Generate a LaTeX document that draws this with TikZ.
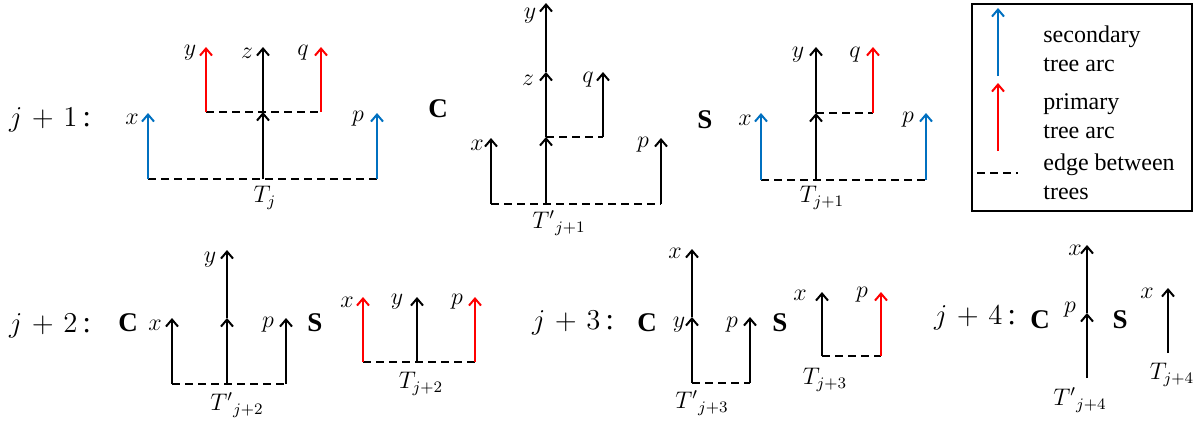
\documentclass[tikz,border=0pt]{standalone}
\usepackage{fontspec}
\setmainfont{Liberation Serif}
\usetikzlibrary{arrows.meta}
\definecolor{sblue}{RGB}{0,112,192}
\definecolor{pred}{RGB}{255,0,0}
\begin{document}
\begin{tikzpicture}[x=0.5pt,y=-0.5pt,
  tarc/.style={line width=1pt,-{Straight Barb[length=3.5pt,width=6pt]}},
  secarc/.style={tarc,sblue},
  priarc/.style={tarc,pred},
  tedge/.style={line width=0.75pt,dash pattern=on 4pt off 2.5pt},
  lbl/.style={inner sep=0pt,font=\fontsize{12}{14}\selectfont},
  bigl/.style={inner sep=0pt,font=\fontsize{15}{17}\selectfont},
  csl/.style={inner sep=0pt,font=\fontsize{13.5}{15}\selectfont\bfseries},
  legt/.style={inner sep=0pt,anchor=base west,font=\fontsize{12}{14}\selectfont}]
\useasboundingbox (0,0) rectangle (1200,420);

% ---------- row 1 ----------
\node[bigl] (r1) at (50,120) {$j\mskip2mu+\mskip2mu1$\,:};
% T_j
\coordinate (a1) at (148,179); \coordinate (a1t) at (148,113);
\coordinate (b1) at (263,179); \coordinate (b1m) at (263,112); \coordinate (b1t) at (263,47);
\coordinate (c1) at (377,179); \coordinate (c1t) at (377,113);
\coordinate (d1) at (206,112); \coordinate (d1t) at (206,47);
\coordinate (e1) at (321,112); \coordinate (e1t) at (321,47);
\draw[tedge] (a1) -- (c1);
\draw[tedge] (d1) -- (e1);
\draw[secarc] (a1) -- (a1t);
\draw[secarc] (c1) -- (c1t);
\draw[tarc] (b1) -- (b1m);
\draw[tarc] (b1m) -- (b1t);
\draw[priarc] (d1) -- (d1t);
\draw[priarc] (e1) -- (e1t);
\node[lbl] (la1) at (132,119) {$x$};
\node[lbl] (ld1) at (190,53) {$y$};
\node[lbl] (lb1) at (247,53) {$z$};
\node[lbl] (le1) at (303,53) {$q$};
\node[lbl] (lc1) at (358,119) {$p$};
\node[lbl] (T1) at (265,198) {$T_j$};

\node[csl] (C1) at (438,109) {C};
% T'_{j+1}
\coordinate (a2) at (491,204); \coordinate (a2t) at (491,138);
\coordinate (b2) at (546,204); \coordinate (b2m) at (546,137); \coordinate (b2n) at (546,72); \coordinate (b2t) at (546,3);
\coordinate (c2) at (661,204); \coordinate (c2t) at (661,138);
\coordinate (d2) at (603,137); \coordinate (d2t) at (603,72);
\draw[tedge] (a2) -- (c2);
\draw[tedge] (b2m) -- (d2);
\draw[tarc] (a2) -- (a2t);
\draw[tarc] (c2) -- (c2t);
\draw[tarc] (b2) -- (b2m);
\draw[tarc] (b2m) -- (b2n);
\draw[tarc] (b2n) -- (b2t);
\draw[tarc] (d2) -- (d2t);
\node[lbl] (lb2t) at (530,16) {$y$};
\node[lbl] (lb2n) at (528,80) {$z$};
\node[lbl] (ld2) at (588,80) {$q$};
\node[lbl] (la2) at (477,145) {$x$};
\node[lbl] (lc2) at (643,145) {$p$};
\node[lbl] (T2) at (559,223) {${T'}_{j+1}$};

\node[csl] (S1) at (705,120) {S};
% T_{j+1}
\coordinate (a3) at (761,180); \coordinate (a3t) at (761,113);
\coordinate (b3) at (816,180); \coordinate (b3m) at (816,113); \coordinate (b3t) at (816,47);
\coordinate (c3) at (926,180); \coordinate (c3t) at (926,113);
\coordinate (d3) at (873,113); \coordinate (d3t) at (873,47);
\draw[tedge] (a3) -- (c3);
\draw[tedge] (b3m) -- (d3);
\draw[secarc] (a3) -- (a3t);
\draw[secarc] (c3) -- (c3t);
\draw[tarc] (b3) -- (b3m);
\draw[tarc] (b3m) -- (b3t);
\draw[priarc] (d3) -- (d3t);
\node[lbl] (lb3) at (798,55) {$y$};
\node[lbl] (ld3) at (855,55) {$q$};
\node[lbl] (la3) at (745,120) {$x$};
\node[lbl] (lc3) at (908,120) {$p$};
\node[lbl] (T3) at (822,198) {$T_{j+1}$};

% legend
\node[draw,line width=0.75pt,minimum width=110pt,minimum height=103.5pt,inner sep=0pt] (leg) at (1082,107.5) {};
\coordinate (lg1) at (998,76); \coordinate (lg1t) at (998,8);
\coordinate (lg2) at (998,151); \coordinate (lg2t) at (998,83);
\coordinate (lg3) at (977,173); \coordinate (lg3e) at (1018,173);
\draw[secarc] (lg1) -- (lg1t);
\draw[priarc] (lg2) -- (lg2t);
\draw[tedge] (lg3) -- (lg3e);
\node[legt] (lt1) at (1043,42) {secondary};
\node[legt] (lt2) at (1043,71) {tree arc};
\node[legt] (lt3) at (1043,109) {primary};
\node[legt] (lt4) at (1043,138) {tree arc};
\node[legt] (lt5) at (1043,170) {edge between};
\node[legt] (lt6) at (1043,199) {trees};

% ---------- row 2 ----------
\node[bigl] (r2) at (50,326) {$j\mskip2mu+\mskip2mu2$\,:};
\node[csl] (C2) at (128,323) {C};
% T'_{j+2}
\coordinate (a4) at (172,384); \coordinate (a4t) at (172,318);
\coordinate (b4) at (227,384); \coordinate (b4m) at (227,318); \coordinate (b4t) at (227,250);
\coordinate (c4) at (286,384); \coordinate (c4t) at (286,318);
\draw[tedge] (a4) -- (c4);
\draw[tarc] (a4) -- (a4t);
\draw[tarc] (b4) -- (b4m);
\draw[tarc] (b4m) -- (b4t);
\draw[tarc] (c4) -- (c4t);
\node[lbl] (la4) at (155,325) {$x$};
\node[lbl] (lb4) at (210,260) {$y$};
\node[lbl] (lc4) at (268,325) {$p$};
\node[lbl] (T4) at (237,405) {${T'}_{j+2}$};

\node[csl] (S2) at (315,323) {S};
% T_{j+2}
\coordinate (a5) at (363,362); \coordinate (a5t) at (363,297);
\coordinate (b5) at (417,362); \coordinate (b5t) at (417,297);
\coordinate (c5) at (475,362); \coordinate (c5t) at (475,297);
\draw[tedge] (a5) -- (c5);
\draw[priarc] (a5) -- (a5t);
\draw[tarc] (b5) -- (b5t);
\draw[priarc] (c5) -- (c5t);
\node[lbl] (la5) at (347,302) {$x$};
\node[lbl] (lb5) at (397,302) {$y$};
\node[lbl] (lc5) at (457,302) {$p$};
\node[lbl] (T5) at (421,384) {$T_{j+2}$};

\node[bigl] (r3) at (573,323) {$j\mskip2mu+\mskip2mu3$\,:};
\node[csl] (C3) at (647,323) {C};
% T'_{j+3}
\coordinate (b6) at (692,383); \coordinate (b6m) at (692,317); \coordinate (b6t) at (692,249);
\coordinate (c6) at (750,383); \coordinate (c6t) at (750,317);
\draw[tedge] (b6) -- (c6);
\draw[tarc] (b6) -- (b6m);
\draw[tarc] (b6m) -- (b6t);
\draw[tarc] (c6) -- (c6t);
\node[lbl] (lb6t) at (675,253) {$x$};
\node[lbl] (lb6m) at (679,325) {$y$};
\node[lbl] (lc6) at (732,325) {$p$};
\node[lbl] (T6) at (702,403) {${T'}_{j+3}$};

\node[csl] (S3) at (780,323) {S};
% T_{j+3}
\coordinate (a7) at (822,356); \coordinate (a7t) at (822,292);
\coordinate (c7) at (881,356); \coordinate (c7t) at (881,292);
\draw[tedge] (a7) -- (c7);
\draw[tarc] (a7) -- (a7t);
\draw[priarc] (c7) -- (c7t);
\node[lbl] (la7) at (800,295) {$x$};
\node[lbl] (lc7) at (862,295) {$p$};
\node[lbl] (T7) at (825,380) {$T_{j+3}$};

\node[bigl] (r4) at (975,318) {$j\mskip2mu+\mskip2mu4$\,:};
\node[csl] (C4) at (1040,320) {C};
% T'_{j+4}
\coordinate (b8) at (1087,378); \coordinate (b8m) at (1087,313); \coordinate (b8t) at (1087,245);
\draw[tarc] (b8) -- (b8m);
\draw[tarc] (b8m) -- (b8t);
\node[lbl] (lb8t) at (1075,250) {$x$};
\node[lbl] (lb8m) at (1070,310) {$p$};
\node[lbl] (T8) at (1080,400) {${T'}_{j+4}$};

\node[csl] (S4) at (1120,320) {S};
% T_{j+4}
\coordinate (a9) at (1168,353); \coordinate (a9t) at (1168,288);
\draw[tarc] (a9) -- (a9t);
\node[lbl] (la9) at (1147,293) {$x$};
\node[lbl] (T9) at (1172,375) {$T_{j+4}$};
\end{tikzpicture}
\end{document}
